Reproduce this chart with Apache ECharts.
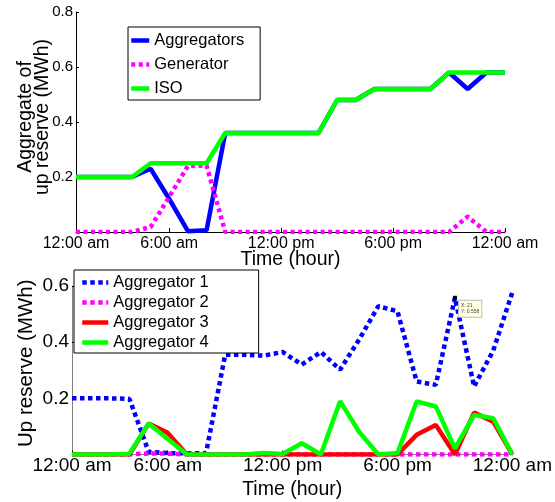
<!DOCTYPE html>
<html>
<head>
<meta charset="utf-8">
<script src="https://cdn.jsdelivr.net/npm/echarts@6/dist/echarts.min.js"></script>
<style>
html,body{margin:0;padding:0;background:#fff;}
#container{width:555px;height:502px;}
</style>
</head>
<body>
<div id="container"></div>
<script>
// hours of the day (x values) and the tick marks on the time axis
var hours = [1,2,3,4,5,6,7,8,9,10,11,12,13,14,15,16,17,18,19,20,21,22,23,24];
var tickHours = [1, 6, 12, 18, 24];
var tickLabels = ['12:00 am', '6:00 am', '12:00 pm', '6:00 pm', '12:00 am'];

// top chart: aggregate up reserve (MWh)
var aggregators = [0.2,0.2,0.2,0.2,0.23,0.12,0.003,0.006,0.36,0.36,0.36,0.36,0.36,0.36,0.48,0.48,0.52,0.52,0.52,0.52,0.58,0.52,0.58,0.58];
var generator   = [0,0,0,0,0.018,0.128,0.24,0.242,0,0,0,0,0,0,0,0,0,0,0,0,0,0.056,0,0];
var iso         = [0.2,0.2,0.2,0.2,0.25,0.25,0.25,0.25,0.36,0.36,0.36,0.36,0.36,0.36,0.48,0.48,0.52,0.52,0.52,0.52,0.58,0.58,0.58,0.58];

// bottom chart: up reserve of each aggregator (MWh)
var agg1 = [0.2,0.2,0.2,0.198,0.01,0.005,0.004,0.005,0.355,0.355,0.352,0.365,0.32,0.365,0.302,0.41,0.528,0.51,0.26,0.248,0.558,0.242,0.37,0.578];
var agg2 = [0,0,0,0,0.004,0.003,0,0,0,0,0,0,0,0,0,0,0,0,0,0,0,0,0,0];
var agg3 = [0,0,0,0,0.11,0.077,0,0,0,0,0,0,0,0,0,0,0,0,0.07,0.105,0,0.149,0.117,0];
var agg4 = [0,0,0,0.003,0.11,0.055,0,0,0,0,0.005,0.002,0.04,0,0.19,0.08,0,0.005,0.189,0.171,0.022,0.141,0.129,0];

// data tip shown on Aggregator 1
var tipHour = 21;
var tipValue = 0.558;

var FONT = 'Liberation Sans, Arial, sans-serif';

function pairs(vals){
    var out = [];
    for(var i=0;i<hours.length;i++){
        out.push([hours[i], vals[i]]);
    }
    return out;
}

function timeLabel(v){
    var i = tickHours.indexOf(v);
    return i < 0 ? '' : tickLabels[i];
}

function yLabel(v){
    return v === 0 ? '' : v.toFixed(1);
}

function xAxisOf(idx, lineColor, gap, labelSize, labelMargin){
    return {
        type: 'value', gridIndex: idx, min: 1, max: 24,
        name: 'Time (hour)', nameLocation: 'middle', nameGap: gap,
        nameMoveOverlap: false,
        nameTextStyle: {fontFamily: FONT, fontSize: 19.5, color: '#000'},
        axisLine: {show: true, lineStyle: {color: lineColor, width: 1}},
        axisTick: {show: true, inside: true, length: 4, customValues: tickHours, lineStyle: {color: '#000'}},
        axisLabel: {customValues: tickHours, formatter: timeLabel, margin: labelMargin,
                    fontFamily: FONT, fontSize: labelSize, color: '#000'},
        splitLine: {show: false}
    };
}

function yAxisOf(idx, max, name, lineColor, gap, pad, nameSize, labelSize){
    return {
        type: 'value', gridIndex: idx, min: 0, max: max, interval: 0.2,
        name: name, nameLocation: 'middle', nameRotate: 90, nameGap: gap,
        nameMoveOverlap: false,
        nameTextStyle: {fontFamily: FONT, fontSize: nameSize, color: '#000', lineHeight: 17, padding: pad},
        axisLine: {show: true, lineStyle: {color: lineColor, width: 1}},
        axisTick: {show: true, inside: true, length: 3, lineStyle: {color: '#000'}},
        axisLabel: {formatter: yLabel, margin: 3, fontFamily: FONT, fontSize: labelSize, color: '#000'},
        splitLine: {show: false}
    };
}

function lineSeries(name, vals, color, xi, dash){
    return {
        name: name, type: 'line', xAxisIndex: xi, yAxisIndex: xi,
        data: pairs(vals), symbol: 'none', smooth: false,
        itemStyle: {color: color},
        lineStyle: {color: color, width: 4.5, type: dash || 'solid', cap: 'butt'}
    };
}

function legendOf(names, left, top, iconW, gap, pad){
    return {
        data: names,
        orient: 'vertical', left: left, top: top,
        itemWidth: iconW, itemHeight: 2, itemGap: gap,
        padding: pad,
        borderColor: '#000', borderWidth: 1, backgroundColor: '#fff',
        selectedMode: false,
        itemStyle: {opacity: 0},
        lineStyle: {width: 'inherit', type: 'inherit'},
        textStyle: {fontFamily: FONT, fontSize: 16.5, color: '#000', lineHeight: 19}
    };
}

var myChart = echarts.init(document.getElementById('container'), null, {renderer: 'canvas'});

var s1 = lineSeries('Aggregator 1', agg1, '#0000ff', 1, [4.5, 3.5]);
s1.markPoint = {
    symbol: 'rect', symbolSize: 4,
    itemStyle: {color: '#000'},
    data: [{coord: [tipHour, tipValue]}],
    label: {
        show: true, position: [6, 5],
        formatter: 'X: ' + tipHour + '\nY: ' + tipValue.toFixed(3),
        fontFamily: FONT, fontSize: 5, lineHeight: 6, color: '#444',
        backgroundColor: '#ffffe1', borderColor: '#bbbbbb', borderWidth: 1, padding: [2, 2]
    }
};

var option = {
    animation: false,
    backgroundColor: '#fff',
    grid: [
        {left: 76, top: 12, width: 429, height: 220},
        {left: 72, top: 286, width: 441, height: 168.5}
    ],
    xAxis: [
        xAxisOf(0, '#000', 18, 16, 4),
        xAxisOf(1, '#808080', 25, 19, 2)
    ],
    yAxis: [
        yAxisOf(0, 0.8, 'Aggregate of\nup reserve (MWh)', '#000', 25, [0, 0, 0, 10], 19.5, 15),
        yAxisOf(1, 0.6, 'Up reserve (MWh)', '#808080', 37, [0, 0, 0, 14], 20.5, 19)
    ],
    legend: [
        legendOf(['Aggregators', 'Generator', 'ISO'], 128, 27, 18, 5, [4, 16, 2, 1]),
        legendOf(['Aggregator 1', 'Aggregator 2', 'Aggregator 3', 'Aggregator 4'], 74, 270, 26, 1, [3, 50, 1, 6])
    ],
    series: [
        lineSeries('Aggregators', aggregators, '#0000ff', 0),
        lineSeries('Generator', generator, '#ff00ff', 0, [4, 3.5]),
        lineSeries('ISO', iso, '#00ff00', 0),
        s1,
        lineSeries('Aggregator 2', agg2, '#ff00ff', 1, [4.5, 3.5]),
        lineSeries('Aggregator 3', agg3, '#ff0000', 1),
        lineSeries('Aggregator 4', agg4, '#00ff00', 1)
    ]
};

myChart.setOption(option);
</script>
</body>
</html>
